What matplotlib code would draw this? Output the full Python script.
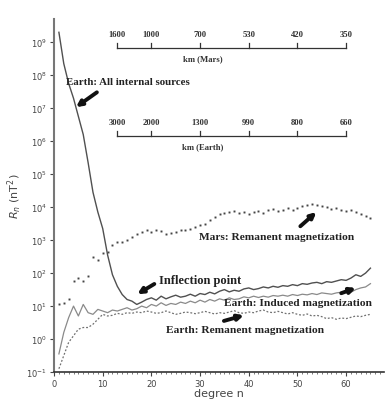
import matplotlib
matplotlib.use("Agg")
import matplotlib.pyplot as plt
import numpy as np

# --- datos (log10 de R_n, grados n = 1..65) ---
degree = np.arange(1, 66)
earth_all_log = [9.3, 8.35, 7.75, 7.3, 6.75, 6.2, 5.35, 4.45, 3.85, 3.35,
                 2.55, 1.95, 1.6, 1.35, 1.2, 1.15, 1.05, 1.12, 1.2, 1.25,
                 1.18, 1.3, 1.22, 1.28, 1.33, 1.27, 1.3, 1.36, 1.3, 1.38,
                 1.35, 1.42, 1.37, 1.45, 1.5, 1.43, 1.48, 1.45, 1.52, 1.55,
                 1.5, 1.53, 1.58, 1.55, 1.6, 1.57, 1.62, 1.6, 1.65, 1.62,
                 1.68, 1.66, 1.7, 1.72, 1.68, 1.74, 1.72, 1.76, 1.8, 1.78,
                 1.85, 1.95, 1.9, 2.0, 2.15]
earth_ind_log = [-0.45, 0.2, 0.65, 1.0, 0.7, 1.05, 0.8, 0.75, 0.9, 0.85,
                 0.8, 0.88, 0.85, 0.9, 0.95, 0.88, 0.92, 1.0, 0.95, 1.05,
                 1.0, 1.1, 1.02, 1.08, 1.05, 1.12, 1.08, 1.15, 1.1, 1.18,
                 1.12, 1.2, 1.15, 1.22, 1.18, 1.25, 1.2, 1.22, 1.28, 1.25,
                 1.3, 1.26, 1.3, 1.27, 1.32, 1.3, 1.33, 1.3, 1.35, 1.32,
                 1.36, 1.34, 1.38, 1.35, 1.4, 1.38, 1.36, 1.4, 1.42, 1.45,
                 1.42, 1.5, 1.55, 1.58, 1.68]
earth_rem_log = [-0.9, -0.5, -0.1, 0.1, 0.3, 0.35, 0.35, 0.45, 0.6, 0.75,
                 0.7, 0.72, 0.78, 0.75, 0.8, 0.78, 0.82, 0.8, 0.85, 0.82,
                 0.78, 0.8, 0.85, 0.8, 0.75, 0.78, 0.82, 0.8, 0.77, 0.8,
                 0.84, 0.8, 0.76, 0.8, 0.78, 0.82, 0.86, 0.8, 0.78, 0.82,
                 0.8, 0.85, 0.88, 0.82, 0.8, 0.84, 0.8, 0.76, 0.8, 0.75,
                 0.72, 0.76, 0.7, 0.72, 0.68, 0.62, 0.65, 0.6, 0.64, 0.62,
                 0.66, 0.7, 0.68, 0.72, 0.75]
mars_rem_log = [1.05, 1.1, 1.2, 1.75, 1.85, 1.75, 1.9, 2.5, 2.4, 2.6,
                2.65, 2.85, 2.95, 2.95, 3.0, 3.1, 3.2, 3.25, 3.3, 3.25,
                3.3, 3.28, 3.2, 3.22, 3.25, 3.3, 3.32, 3.35, 3.4, 3.45,
                3.5, 3.6, 3.7, 3.78, 3.82, 3.85, 3.88, 3.82, 3.85, 3.8,
                3.85, 3.88, 3.82, 3.9, 3.95, 3.88, 3.92, 3.96, 3.9, 3.98,
                4.02, 4.05, 4.08, 4.06, 4.04, 4.0, 3.95, 3.98, 3.92, 3.88,
                3.9, 3.85, 3.8, 3.72, 3.68]

# escalas de longitud de onda (posición en grado n y etiqueta en km)
mars_km_n = [13, 20, 30, 40, 50, 60]
mars_km_lab = ["1600", "1000", "700", "530", "420", "350"]
earth_km_n = [13, 20, 30, 40, 50, 60]
earth_km_lab = ["3000", "2000", "1300", "990", "800", "660"]

SERIF = "Liberation Serif"

fig = plt.figure(figsize=(3.86, 4.02), dpi=100)
ax = fig.add_axes([0.14, 0.072, 0.855, 0.878])

ax.plot(degree, 10 ** np.array(earth_all_log), color="#505050", lw=1.0)
ax.plot(degree, 10 ** np.array(earth_ind_log), color="#8a8a8a", lw=0.9)
ax.plot(degree, 10 ** np.array(earth_rem_log), color="#707070", lw=0.9, ls=(0, (1.5, 1.5)))
ax.plot(degree, 10 ** np.array(mars_rem_log), ls="none", marker="s", ms=1.4,
        color="#444444", mec="none")

ax.set_yscale("log")
ax.set_xlim(0, 67.8)
ax.set_ylim(1e-1, 10 ** 9.7)
ax.set_yticks([10.0 ** k for k in range(-1, 10)])
ax.yaxis.set_minor_locator(matplotlib.ticker.NullLocator())
ax.set_xticks(range(0, 70, 10))
ax.xaxis.set_minor_locator(matplotlib.ticker.MultipleLocator(1))
ax.tick_params(axis="both", which="major", labelsize=6, colors="#444444", length=3, pad=2)
ax.tick_params(axis="x", which="minor", length=1.5, colors="#666666")
for s in ("top", "right"):
    ax.spines[s].set_visible(False)
ax.spines["left"].set_color("#777777")
ax.spines["left"].set_linewidth(1.5)
ax.spines["bottom"].set_color("#333333")
ax.spines["bottom"].set_linewidth(1.2)
ax.set_xlabel("degree n", fontsize=8, color="#444444", labelpad=0)
ax.set_ylabel(r"$R_n$ (nT$^2$)", fontsize=8, color="#444444", labelpad=2)

# --- escalas superiores en km ---
tr = ax.get_xaxis_transform()
for ns, labs, yl, name in [(mars_km_n, mars_km_lab, 0.918, "km (Mars)"),
                           (earth_km_n, earth_km_lab, 0.669, "km (Earth)")]:
    ax.plot([ns[0], ns[-1]], [yl, yl], transform=tr, color="#333333", lw=0.9)
    for n, lab in zip(ns, labs):
        ax.plot([n, n], [yl, yl + 0.013], transform=tr, color="#333333", lw=0.9)
        ax.text(n, yl + 0.028, lab, transform=tr, ha="center", va="bottom",
                fontsize=6.2, family=SERIF, fontweight="bold", color="#333333")
    ax.text(30.5, yl - 0.018, name, transform=tr, ha="center", va="top",
            fontsize=6.2, family=SERIF, fontweight="bold", color="#333333")

# --- anotaciones ---
arrow = dict(arrowstyle="-|>", lw=2.8, color="#111111", mutation_scale=8,
             shrinkA=0, shrinkB=0)
notes = [
    ("Earth: All internal sources", (2.4, 10 ** 7.82), (8.8, 10 ** 7.48), (4.5, 10 ** 7.03), 7.8),
    ("Mars: Remanent magnetization", (29.8, 10 ** 3.12), (50.6, 10 ** 3.42), (53.9, 10 ** 3.85), 8.2),
    ("Inflection point", (21.6, 10 ** 1.78), (20.6, 10 ** 1.67), (17.1, 10 ** 1.36), 9.0),
    ("Earth: Induced magnetization", (34.9, 10 ** 1.12), (59.0, 10 ** 1.39), (62.0, 10 ** 1.55), 8.2),
    ("Earth: Remanent magnetization", (23.0, 10 ** 0.3), (34.9, 10 ** 0.55), (39.0, 10 ** 0.72), 8.2),
]
for txt, pos, tail, head, fs in notes:
    ax.text(pos[0], pos[1], txt, ha="left", va="center", fontsize=fs,
            family=SERIF, fontweight="bold", color="#222222")
    ax.annotate("", xy=head, xytext=tail, arrowprops=arrow)

fig.savefig("out.png", dpi=100)
